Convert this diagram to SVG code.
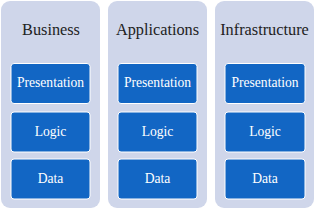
<svg xmlns="http://www.w3.org/2000/svg" width="320" height="210" viewBox="0 0 320 210">
<style>
.col{fill:#cfd6ea}
.box{fill:#1266c4;stroke:#ffffff;stroke-width:1}
.title{font-family:"Liberation Serif","Times New Roman",serif;font-size:16.3px;fill:#222;text-anchor:middle}
.lbl{font-family:"Liberation Serif","Times New Roman",serif;font-size:13.6px;fill:#fff;text-anchor:middle}
</style>
<rect width="320" height="210" fill="#ffffff"/>
<g id="business">
<rect class="col" x="1" y="1" width="99" height="207" rx="9"/>
<text class="title" x="51" y="35">Business</text>
<g id="business-presentation"><rect class="box" x="11" y="63.5" width="79" height="40" rx="3"/><text class="lbl" x="50.5" y="87">Presentation</text></g>
<g id="business-logic"><rect class="box" x="11" y="112" width="79" height="40" rx="3"/><text class="lbl" x="50.5" y="136">Logic</text></g>
<g id="business-data"><rect class="box" x="11" y="159" width="79" height="40" rx="3"/><text class="lbl" x="50.5" y="183">Data</text></g>
</g>
<g id="applications">
<rect class="col" x="108" y="1" width="99" height="207" rx="9"/>
<text class="title" x="157.5" y="35">Applications</text>
<g id="applications-presentation"><rect class="box" x="118" y="63.5" width="79" height="40" rx="3"/><text class="lbl" x="157.5" y="87">Presentation</text></g>
<g id="applications-logic"><rect class="box" x="118" y="112" width="79" height="40" rx="3"/><text class="lbl" x="157.5" y="136">Logic</text></g>
<g id="applications-data"><rect class="box" x="118" y="159" width="79" height="40" rx="3"/><text class="lbl" x="157.5" y="183">Data</text></g>
</g>
<g id="infrastructure">
<rect class="col" x="215" y="1" width="99" height="207" rx="9"/>
<text class="title" x="264.5" y="35">Infrastructure</text>
<g id="infrastructure-presentation"><rect class="box" x="225" y="63.5" width="80" height="40" rx="3"/><text class="lbl" x="265" y="87">Presentation</text></g>
<g id="infrastructure-logic"><rect class="box" x="225" y="112" width="80" height="40" rx="3"/><text class="lbl" x="265" y="136">Logic</text></g>
<g id="infrastructure-data"><rect class="box" x="225" y="159" width="80" height="40" rx="3"/><text class="lbl" x="265" y="183">Data</text></g>
</g>
<g id="connectors"></g>
</svg>
